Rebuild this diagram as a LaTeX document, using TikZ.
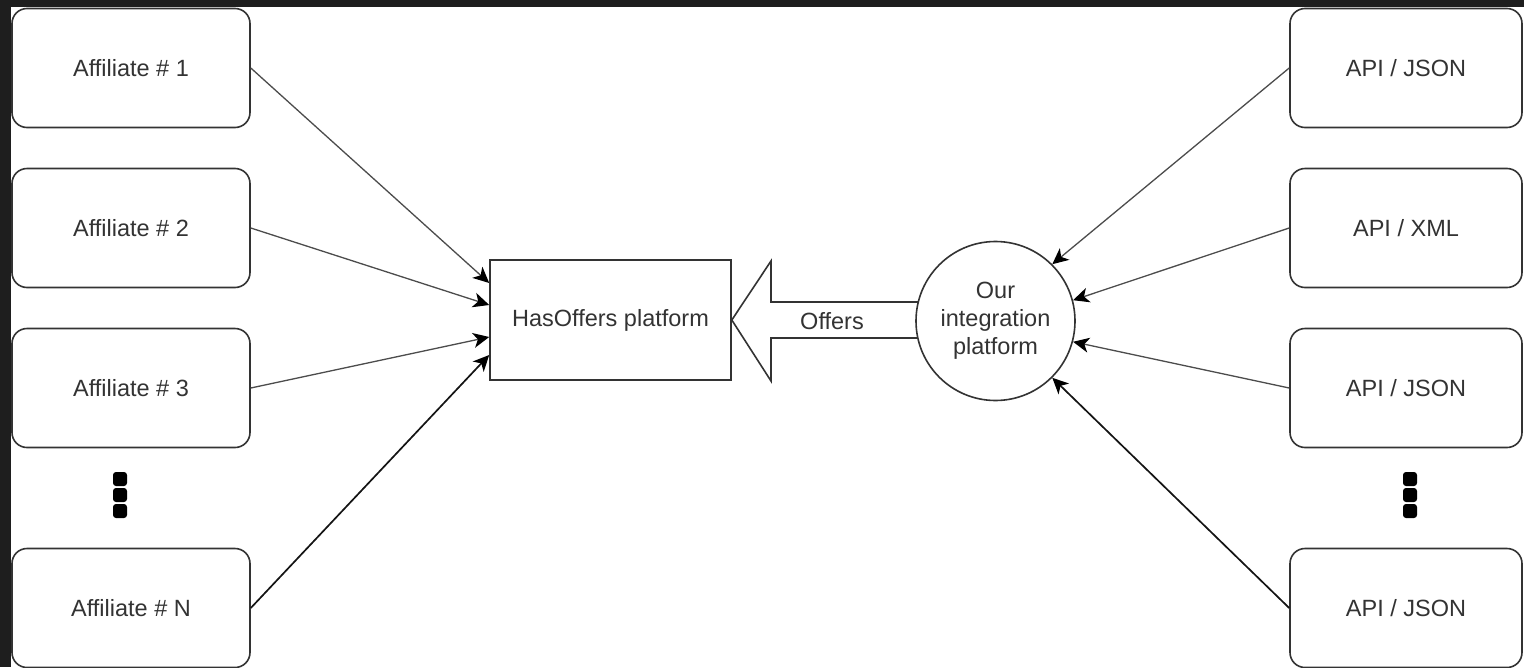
\documentclass[tikz,border=0pt]{standalone}
\usepackage{fontspec}
\setmainfont{Liberation Sans}
\usetikzlibrary{arrows.meta,calc}
\definecolor{framec}{HTML}{1E1E1E}
\definecolor{inkc}{HTML}{333333}
\tikzset{
  rbox/.style={draw=inkc, line width=1.6pt, rounded corners=15pt, fill=white,
    minimum width=238pt, minimum height=119pt, inner sep=0pt,
    font=\fontsize{23.5}{28}\selectfont, text=inkc},
  apibox/.style={rbox, minimum width=232pt},
  hubbox/.style={draw=inkc, line width=1.6pt, fill=white, minimum width=241pt,
    minimum height=120pt, inner sep=0pt, font=\fontsize{23.5}{28}\selectfont, text=inkc},
  roundnode/.style={circle, draw=inkc, line width=1.6pt, fill=white, minimum size=159pt,
    inner sep=0pt, align=center, font=\fontsize{23.5}{28}\selectfont, text=inkc},
  lbl/.style={font=\fontsize{23.5}{28}\selectfont, text=inkc, inner sep=0pt},
  conn/.style={draw=black!70, line width=1.3pt,
    -{Stealth[length=16pt,width=15pt,inset=4.5pt,color=black]}},
  connb/.style={conn, draw=black!92, line width=1.7pt},
  dotsq/.style={fill=black, rounded corners=3pt},
  bigarrow/.style={draw=inkc, line width=1.6pt, fill=white, line join=miter}
}
\begin{document}
\begin{tikzpicture}[x=1pt,y=-1pt]
\useasboundingbox (0,0) rectangle (1524,667);
\fill[framec] (0,0) rectangle (1524,667);
\fill[white] (11,7) rectangle (1524,667);

% left boxes
\node[rbox] (a1) at (131,68) {Affiliate \# 1};
\node[rbox] (a2) at (131,228) {Affiliate \# 2};
\node[rbox] (a3) at (131,388) {Affiliate \# 3};
\node[rbox] (an) at (131,608) {Affiliate \# N};

% right boxes
\node[apibox] (r1) at (1406,68) {API / JSON};
\node[apibox] (r2) at (1406,228) {API / XML};
\node[apibox] (r3) at (1406,388) {API / JSON};
\node[apibox] (rn) at (1406,608) {API / JSON};

% dots
\foreach \yy in {472,488,504}{
  \fill[dotsq] (113,\yy) rectangle (127,\yy+14);
  \fill[dotsq] (1403,\yy) rectangle (1417,\yy+14);
}

% hub
\node[hubbox] (hub) at (610.5,320) {HasOffers platform};

% big arrow
\draw[bigarrow] (hub.east) -- (771,261) -- (771,302) -- (935,302)
  -- (935,338) -- (771,338) -- (771,381) -- cycle;

% circle
\node[roundnode] (circ) at (995.5,321) {Our\\integration\\platform};
\node[lbl] (offers) at (832,321) {Offers};

% left connectors
\draw[conn] (a1.east) -- ($(hub.west)+(0,-37)$);
\draw[conn] (a2.east) -- ($(hub.west)+(0,-15)$);
\draw[conn] (a3.east) -- ($(hub.west)+(0,17)$);
\draw[connb] (an.east) -- ($(hub.west)+(0,35)$);

% right connectors
\draw[conn] (r1.west) -- (circ.45);
\draw[conn] (r2.west) -- (circ.15);
\draw[conn] (r3.west) -- (circ.-15);
\draw[connb] (rn.west) -- (circ.-45);
\end{tikzpicture}
\end{document}
